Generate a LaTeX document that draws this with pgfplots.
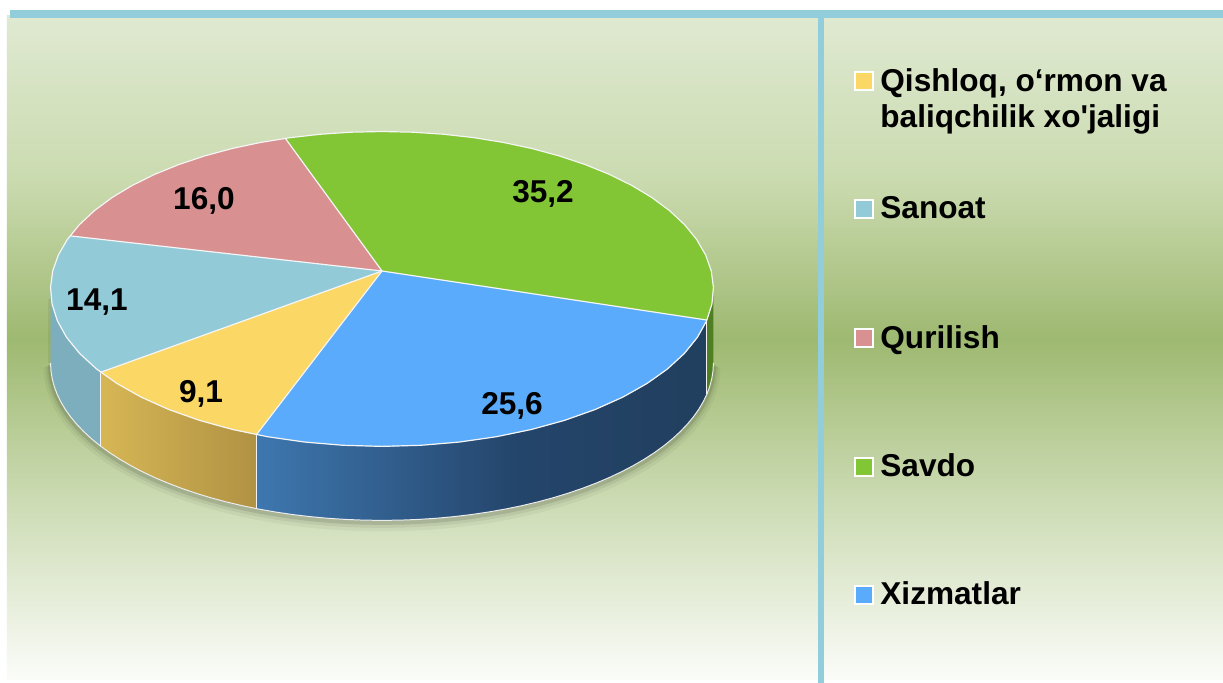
\documentclass[border=0pt]{standalone}
\usepackage{pgfplots}
\pgfplotsset{compat=1.18}
\usepackage{pgfplotstable}
\usepackage{fontspec}
\setmainfont{Liberation Sans}[Ligatures=TeXOff]

\definecolor{cQish}{HTML}{FBD766}
\definecolor{cSan}{HTML}{92CAD8}
\definecolor{cQur}{HTML}{D89090}
\definecolor{cSav}{HTML}{82C636}
\definecolor{cXiz}{HTML}{5AABFB}
\definecolor{wSan}{HTML}{7DAEBE}
\definecolor{wSav}{HTML}{4F7F22}
\definecolor{wQ1}{HTML}{D6B654}
\definecolor{wQ2}{HTML}{B09244}
\definecolor{wX1}{HTML}{3E77AF}
\definecolor{wX2}{HTML}{24456B}
\definecolor{wX3}{HTML}{213F5E}
\definecolor{barblue}{HTML}{92CDDC}
\definecolor{bgA}{HTML}{DFE9D1}
\definecolor{bgB}{HTML}{CBDBB0}
\definecolor{bgC}{HTML}{9EB971}
\definecolor{bgD}{HTML}{CCDBB3}
\definecolor{bgE}{HTML}{FBFCF9}

\pgfdeclareverticalshading{bgshade}{100bp}{color(0bp)=(bgE); color(25bp)=(bgE); color(38.6bp)=(bgD); color(50.7bp)=(bgC); color(62.8bp)=(bgB); color(75bp)=(bgA); color(100bp)=(bgA)}
\pgfdeclarehorizontalshading{xshade}{100bp}{color(0bp)=(wX1); color(25bp)=(wX1); color(54bp)=(wX2); color(75bp)=(wX3); color(100bp)=(wX3)}

\pgfplotstableread{
name value
Qishloq 9.1
Sanoat 14.1
Qurilish 16.0
Savdo 35.2
Xizmatlar 25.6
}\piedata

\pgfplotstablegetelem{0}{value}\of\piedata \let\pvA\pgfplotsretval
\pgfplotstablegetelem{1}{value}\of\piedata \let\pvB\pgfplotsretval
\pgfplotstablegetelem{2}{value}\of\piedata \let\pvC\pgfplotsretval
\pgfplotstablegetelem{3}{value}\of\piedata \let\pvD\pgfplotsretval
\pgfplotstablegetelem{4}{value}\of\piedata \let\pvE\pgfplotsretval

% geometry (pixel units, y downward)
\def\pcx{382}\def\pcy{271}\def\pRA{329.3}\def\pRB{155.4}\def\pk{0.114}\def\pdep{74}
\def\pstart{-109.9}
\pgfmathsetmacro\pdA{-3.6*\pvA}
\pgfmathsetmacro\pdB{-3.6*\pvB}
\pgfmathsetmacro\pdC{-3.6*\pvC}
\pgfmathsetmacro\pdD{-3.6*\pvD}
\pgfmathsetmacro\pdE{-3.6*\pvE}
\pgfmathsetmacro\paA{\pstart}
\pgfmathsetmacro\paB{\paA+\pdA}
\pgfmathsetmacro\paC{\paB+\pdB}
\pgfmathsetmacro\paD{\paC+\pdC}
\pgfmathsetmacro\paE{\paD+\pdD}
\pgfmathsetmacro\paEn{\paE+360}
\pgfmathsetmacro\psil{asin(\pk)}
\pgfmathsetmacro\psilL{-180+\psil}
\pgfmathsetmacro\psilR{0-\psil}
\pgfmathsetmacro\pwSanD{\psilL-\paB}
\pgfmathsetmacro\pwSanDn{0-\pwSanD}
\pgfmathsetmacro\pwSavD{\paEn-\psilR}
\pgfmathsetmacro\pwSavDn{0-\pwSavD}
\pgfmathsetmacro\pdAn{0-\pdA}
\pgfmathsetmacro\pdEn{0-\pdE}
\pgfmathsetmacro\pwQs{\paA+\pdA}
\pgfmathsetmacro\pwXs{\paEn+\pdE}
\pgfmathsetmacro\pfullD{\psilR-\psilL}
\pgfmathsetmacro\pfullDn{0-\pfullD}
\pgfmathsetmacro\pdepA{\pdep+2}
\pgfmathsetmacro\pdepB{\pdep+3}
\pgfmathsetmacro\pdepC{\pdep+4}

\newcommand\PT[2]{(axis cs:{\pcx+\pRA*cos(#1)/(1+\pk*sin(#1))},{\pcy-\pRB*sin(#1)/(1+\pk*sin(#1))+#2})}
% arc points from #1 over span #2 at vertical offset #3
\newcommand\arcpts[3]{foreach \pii in {0,...,60} {-- (axis cs:{\pcx+\pRA*cos(#1+(#2)*\pii/60)/(1+\pk*sin(#1+(#2)*\pii/60))},{\pcy-\pRB*sin(#1+(#2)*\pii/60)/(1+\pk*sin(#1+(#2)*\pii/60))+#3})}}

\begin{document}
\begin{tikzpicture}
\begin{axis}[
  x=0.5pt, y=0.5pt,
  xmin=0, xmax=1223, ymin=0, ymax=683,
  y dir=reverse,
  hide axis,
  scale only axis,
  clip=false,
]
% background
\fill[white] (axis cs:0,0) rectangle (axis cs:1223,683);
\shade[shading=bgshade] (axis cs:7,16) rectangle (axis cs:1223,680);
\fill[barblue] (axis cs:10,10) rectangle (axis cs:1223,18);
\fill[barblue] (axis cs:818,10) rectangle (axis cs:824,683);

% shadow
\draw[black, opacity=0.04, line width=7pt] \PT{\psilL}{\pdepC} \arcpts{\psilL}{\pfullD}{\pdepC};
\draw[black, opacity=0.06, line width=4.5pt] \PT{\psilL}{\pdepB} \arcpts{\psilL}{\pfullD}{\pdepB};
\draw[black, opacity=0.10, line width=2.5pt] \PT{\psilL}{\pdepA} \arcpts{\psilL}{\pfullD}{\pdepA};
\draw[black, opacity=0.06, line width=3pt] \PT{\psilL}{10} -- \PT{\psilL}{\pdep};

% side walls
\fill[wSan] \PT{\paB}{0} \arcpts{\paB}{\pwSanD}{0} \arcpts{\psilL}{\pwSanDn}{\pdep} -- cycle;
\shade[left color=wQ1, right color=wQ2] \PT{\paA}{0} \arcpts{\paA}{\pdA}{0} \arcpts{\pwQs}{\pdAn}{\pdep} -- cycle;
\shade[shading=xshade] \PT{\paEn}{0} \arcpts{\paEn}{\pdE}{0} \arcpts{\pwXs}{\pdEn}{\pdep} -- cycle;
\fill[wSav] \PT{\psilR}{0} \arcpts{\psilR}{\pwSavD}{0} \arcpts{\paEn}{\pwSavDn}{\pdep} -- cycle;
% wall edges
\draw[white!85!gray, line width=0.5pt] \PT{\psilL}{\pdep} \arcpts{\psilL}{\pfullD}{\pdep};
\draw[white!90!gray, line width=0.5pt] \PT{\paA}{0} -- \PT{\paA}{\pdep};
\draw[white!90!gray, line width=0.5pt] \PT{\paB}{0} -- \PT{\paB}{\pdep};
\draw[white!90!gray, line width=0.5pt] \PT{\paEn}{0} -- \PT{\paEn}{\pdep};

% top faces
\fill[cQish] (axis cs:\pcx,\pcy) \arcpts{\paA}{\pdA}{0} -- cycle;
\fill[cSan] (axis cs:\pcx,\pcy) \arcpts{\paB}{\pdB}{0} -- cycle;
\fill[cQur] (axis cs:\pcx,\pcy) \arcpts{\paC}{\pdC}{0} -- cycle;
\fill[cSav] (axis cs:\pcx,\pcy) \arcpts{\paD}{\pdD}{0} -- cycle;
\fill[cXiz] (axis cs:\pcx,\pcy) \arcpts{\paE}{\pdE}{0} -- cycle;
% separators
\draw[white!92!gray, line width=0.6pt] (axis cs:\pcx,\pcy) -- \PT{\paA}{0};
\draw[white!92!gray, line width=0.6pt] (axis cs:\pcx,\pcy) -- \PT{\paB}{0};
\draw[white!92!gray, line width=0.6pt] (axis cs:\pcx,\pcy) -- \PT{\paC}{0};
\draw[white!92!gray, line width=0.6pt] (axis cs:\pcx,\pcy) -- \PT{\paD}{0};
\draw[white!92!gray, line width=0.6pt] (axis cs:\pcx,\pcy) -- \PT{\paE}{0};
\draw[white!92!gray, line width=0.6pt] \PT{0}{0} \arcpts{0}{360}{0};

% data labels
\tikzset{lab/.style={anchor=base, inner sep=0pt, font=\bfseries\fontsize{15.8}{18}\selectfont}}
\node[lab] at (axis cs:201,403) {9,1};
\node[lab] at (axis cs:97,311) {14,1};
\node[lab] at (axis cs:204,210) {16,0};
\node[lab] at (axis cs:543,203) {35,2};
\node[lab] at (axis cs:512,415) {25,6};

% legend
\tikzset{leg/.style={anchor=base west, inner sep=0pt, align=left, font=\bfseries\fontsize{15.8}{18}\selectfont},
  sq/.style={draw=white, line width=1pt}}
\filldraw[sq, fill=cQish] (axis cs:855,72) rectangle (axis cs:873,90);
\node[leg] at (axis cs:880,92) {Qishloq, o‘rmon va};
\node[leg] at (axis cs:880,128) {baliqchilik xo'jaligi};
\filldraw[sq, fill=cSan] (axis cs:855,200) rectangle (axis cs:873,218);
\node[leg] at (axis cs:880,219) {Sanoat};
\filldraw[sq, fill=cQur] (axis cs:855,329) rectangle (axis cs:873,347);
\node[leg] at (axis cs:880,349) {Qurilish};
\filldraw[sq, fill=cSav] (axis cs:855,458) rectangle (axis cs:873,476);
\node[leg] at (axis cs:880,477) {Savdo};
\filldraw[sq, fill=cXiz] (axis cs:855,586) rectangle (axis cs:873,604);
\node[leg] at (axis cs:880,605) {Xizmatlar};
\end{axis}
\end{tikzpicture}
\end{document}
